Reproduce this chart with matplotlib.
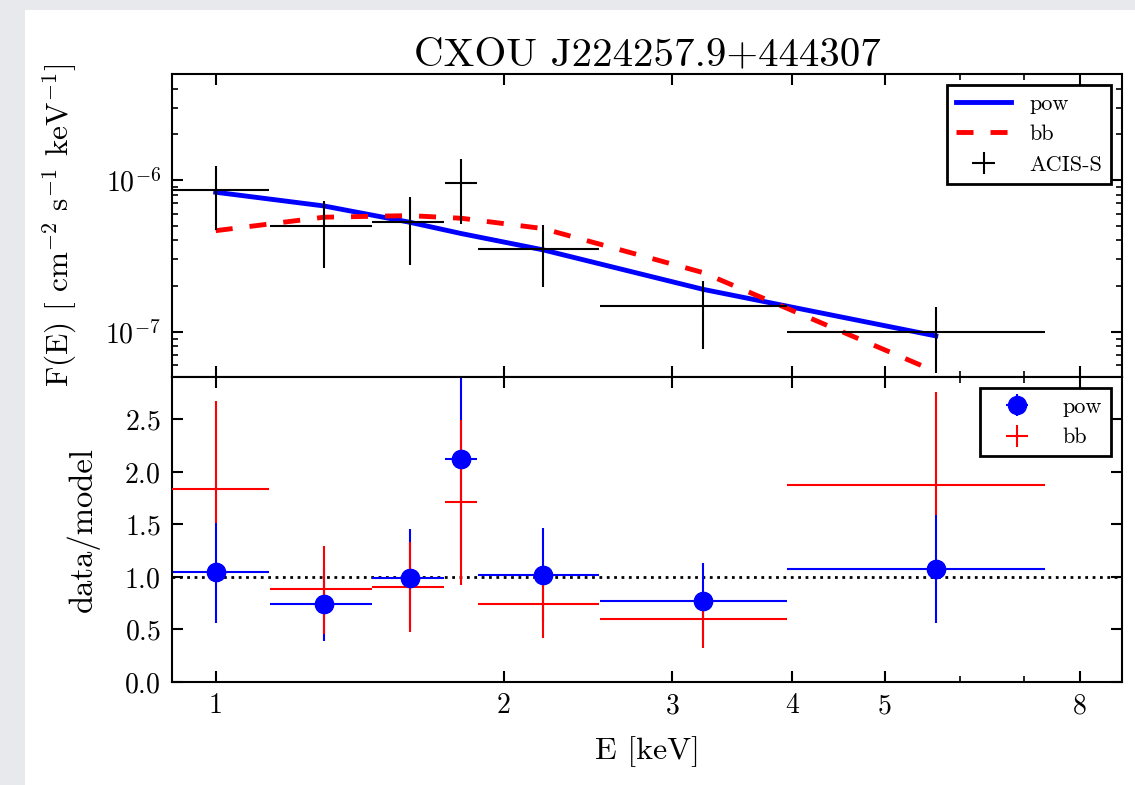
import numpy as np
import matplotlib
matplotlib.use('Agg')
import matplotlib.pyplot as plt
from matplotlib.patches import Rectangle
from matplotlib.ticker import NullFormatter

# spectrum bins (keV)
E = np.array([1.0, 1.297, 1.595, 1.806, 2.198, 3.23, 5.655])
E_lo = np.array([0.86, 1.139, 1.458, 1.735, 1.879, 2.52, 3.95])
E_hi = np.array([1.137, 1.456, 1.731, 1.876, 2.512, 3.95, 7.36])

# ACIS-S flux + errors
flux = np.array([8.6e-7, 5.0e-7, 5.26e-7, 9.5e-7, 3.51e-7, 1.48e-7, 1.0e-7])
flux_hi = np.array([1.24e-6, 7.3e-7, 7.73e-7, 1.375e-6, 5.03e-7, 2.17e-7, 1.46e-7])
flux_lo = np.array([4.68e-7, 2.62e-7, 2.75e-7, 5.13e-7, 1.96e-7, 7.7e-8, 5.3e-8])

# models
pow_model = np.array([8.3e-7, 6.74e-7, 5.26e-7, 4.43e-7, 3.46e-7, 1.90e-7, 9.37e-8])
bb_model = np.array([4.63e-7, 5.68e-7, 5.82e-7, 5.59e-7, 4.78e-7, 2.45e-7, 5.45e-8])

# data/model ratios
r_pow = np.array([1.05, 0.739, 0.99, 2.12, 1.018, 0.77, 1.08])
r_pow_hi = np.array([1.516, 1.088, 1.456, 3.07, 1.468, 1.13, 1.59])
r_pow_lo = np.array([0.564, 0.39, 0.518, 1.16, 0.568, 0.40, 0.564])
r_bb = np.array([1.833, 0.882, 0.907, 1.71, 0.739, 0.60, 1.874])
r_bb_hi = np.array([2.676, 1.297, 1.335, 2.49, 1.06, 0.86, 2.76])
r_bb_lo = np.array([1.51, 0.46, 0.479, 0.92, 0.416, 0.32, 1.59])

xticks = [1, 2, 3, 4, 5, 8]
xticklabels = ['1', '2', '3', '4', '5', '8']

plt.rcParams['font.family'] = 'serif'
plt.rcParams['font.serif'] = ['cmr10']
plt.rcParams['mathtext.fontset'] = 'cm'
plt.rcParams['axes.formatter.use_mathtext'] = True
plt.rcParams['axes.linewidth'] = 1.5
for a in ['x', 'y']:
    plt.rcParams[a + 'tick.direction'] = 'in'
    plt.rcParams[a + 'tick.major.size'] = 8
    plt.rcParams[a + 'tick.minor.size'] = 4
    plt.rcParams[a + 'tick.major.width'] = 1.5
    plt.rcParams[a + 'tick.minor.width'] = 1.2
    plt.rcParams[a + 'tick.major.pad'] = 8
    plt.rcParams[a + 'tick.minor.pad'] = 8
    plt.rcParams[a + 'tick.labelsize'] = 20
plt.rcParams['xtick.top'] = True
plt.rcParams['ytick.right'] = True

fig = plt.figure(figsize=(11.35, 7.85), dpi=100)
fig.patch.set_facecolor('#e8e9ed')
fig.add_artist(Rectangle((25 / 1135, 0), 1, 775 / 785, transform=fig.transFigure,
                         facecolor='white', edgecolor='none', zorder=-5))

ax1 = fig.add_axes([0.1515, 0.5194, 0.837, 0.3864])
ax2 = fig.add_axes([0.1515, 0.1312, 0.837, 0.3882], sharex=ax1)

# top panel: spectrum
eb = ax1.errorbar(E, flux, xerr=[E - E_lo, E_hi - E], yerr=[flux - flux_lo, flux_hi - flux],
                  fmt='none', ecolor='k', elinewidth=1.5, capsize=0, zorder=3)
l1, = ax1.plot(E, pow_model, 'b-', lw=3.5, zorder=2)
l2, = ax1.plot(E, bb_model, color='r', ls=(0, (3.5, 3.5)), lw=3.5, zorder=2)
ax1.set_xscale('log')
ax1.set_yscale('log')
ax1.set_xlim(0.9, 8.85)
ax1.set_ylim(5e-8, 5e-6)
ax1.tick_params(labelbottom=False)
ax1.set_ylabel(r'F(E) [ cm$^{-2}$ s$^{-1}$ keV$^{-1}$]', fontsize=22.5, labelpad=19)
ax1.set_title('CXOU J224257.9+444307', fontsize=29.5)
leg1 = ax1.legend([l1, l2, eb], ['pow', 'bb', 'ACIS-S'], loc='upper right',
                  fontsize=16, handlelength=2.5, fancybox=False, framealpha=1)
leg1.get_frame().set_edgecolor('k')
leg1.get_frame().set_linewidth(2)

# bottom panel: ratios
e1 = ax2.errorbar(E, r_pow, xerr=[E - E_lo, E_hi - E], yerr=[r_pow - r_pow_lo, r_pow_hi - r_pow],
                  fmt='o', color='b', ms=13, elinewidth=1.5, capsize=0, zorder=2)
e2 = ax2.errorbar(E, r_bb, xerr=[E - E_lo, E_hi - E], yerr=[r_bb - r_bb_lo, r_bb_hi - r_bb],
                  fmt='none', ecolor='r', elinewidth=1.5, capsize=0, zorder=3)
ax2.plot(E, r_pow, 'o', color='b', ms=13, zorder=4)
ax2.axhline(1.0, color='k', ls=':', lw=2, zorder=1)
ax2.set_ylim(0, 2.9)
ax2.set_yticks(np.arange(0, 2.51, 0.5))
ax2.set_xticks(xticks)
ax2.set_xticklabels(xticklabels)
ax2.set_xticks([6, 7], minor=True)
ax2.xaxis.set_minor_formatter(NullFormatter())
ax2.set_xlabel('E [keV]', fontsize=23, labelpad=12)
ax2.set_ylabel('data/model', fontsize=23.5, labelpad=18)
leg2 = ax2.legend([e1, e2], ['pow', 'bb'], loc='upper right',
                  fontsize=16, handlelength=2.5, fancybox=False, framealpha=1)
leg2.get_frame().set_edgecolor('k')
leg2.get_frame().set_linewidth(2)

fig.savefig('out.png', dpi=100, facecolor=fig.get_facecolor())
